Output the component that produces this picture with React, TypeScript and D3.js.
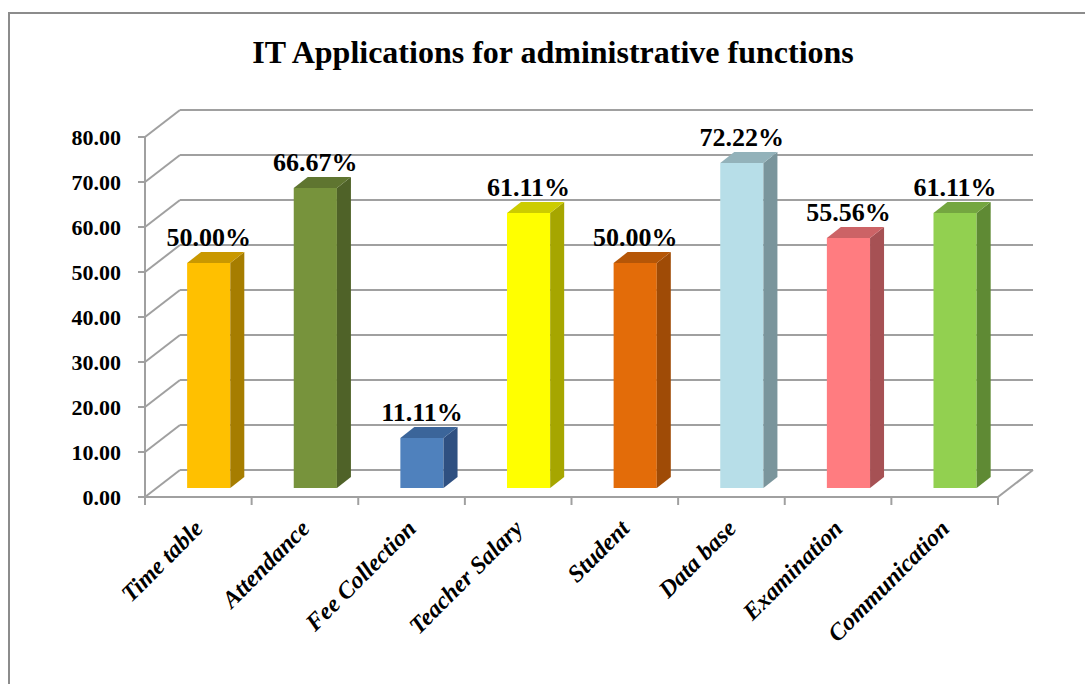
import React from "react";
import * as d3 from "d3";

const categories = ["Time table", "Attendance", "Fee Collection", "Teacher Salary", "Student", "Data base", "Examination", "Communication"];
const values = [50.0, 66.67, 11.11, 61.11, 50.0, 72.22, 55.56, 61.11];
const frontColors = ["#FFC000", "#77933C", "#4F81BD", "#FFFF00", "#E36C09", "#B7DEE8", "#FF7C80", "#92D050"];
const sideColors = ["#A67D00", "#4F6228", "#2F5081", "#A6A600", "#9F4B06", "#7A959C", "#A65154", "#5F8A34"];
const topColors = ["#C99800", "#5F7530", "#3B659A", "#CCCC00", "#B55607", "#93B2BA", "#CC6366", "#74A640"];
const yTicks = [0, 10, 20, 30, 40, 50, 60, 70, 80];
const title = "IT Applications for administrative functions";

const W = 1085;
const H = 684;

export default function App() {
  const x = d3.scaleBand<string>().domain(categories).range([145, 998]).padding(0);
  const y = d3.scaleLinear().domain([0, 80]).range([497, 137]);
  const bdx = 35, bdy = -27; // back wall offset
  const pdx = 0, pdy = -9; // bar plane offset
  const sdx = 14, sdy = -11; // bar depth
  const bw = x.bandwidth() * 0.405;
  const grid = "#A0A0A0";
  const serif = "'Liberation Serif', 'Times New Roman', serif";

  return (
    <svg width={W} height={H} style={{ position: "absolute", left: 0, top: 0, background: "#fff" }}>
      <rect x={9} y={13} width={1100} height={700} fill="#fff" stroke="#8C8C8C" strokeWidth={2} />
      <text x={553} y={63} textAnchor="middle" fontFamily={serif} fontWeight="bold" fontSize={32}>{title}</text>

      {/* back wall gridlines and side diagonals */}
      {yTicks.map((t) => (
        <g key={"g" + t}>
          <line x1={145 + bdx} x2={998 + bdx} y1={y(t) + bdy} y2={y(t) + bdy} stroke={grid} strokeWidth={2} />
          <line x1={145} y1={y(t)} x2={145 + bdx} y2={y(t) + bdy} stroke={grid} strokeWidth={2} />
        </g>
      ))}
      {/* floor */}
      <line x1={145} x2={998} y1={y(0)} y2={y(0)} stroke={grid} strokeWidth={2} />
      <line x1={998} y1={y(0)} x2={998 + bdx} y2={y(0) + bdy} stroke={grid} strokeWidth={2} />
      {/* y axis */}
      <line x1={145} x2={145} y1={y(80)} y2={y(0)} stroke={grid} strokeWidth={2} />
      {yTicks.map((t) => (
        <g key={"t" + t}>
          <line x1={138} x2={145} y1={y(t)} y2={y(t)} stroke={grid} strokeWidth={2} />
          <text x={121} y={y(t)} dy="0.35em" textAnchor="end" fontFamily={serif} fontWeight="bold" fontSize={22}>{t.toFixed(2)}</text>
        </g>
      ))}
      {/* x ticks */}
      {categories.map((c, i) => (
        <line key={"xt" + i} x1={x(c)!} x2={x(c)!} y1={y(0)} y2={y(0) + 8} stroke={grid} strokeWidth={2} />
      ))}
      <line x1={998} x2={998} y1={y(0)} y2={y(0) + 8} stroke={grid} strokeWidth={2} />

      {/* bars */}
      {categories.map((c, i) => {
        const x0 = x(c)! + x.bandwidth() * 0.395 + pdx;
        const x1 = x0 + bw;
        const yb = y(0) + pdy;
        const yt = y(values[i]) + pdy;
        return (
          <g key={"b" + i}>
            <rect x={x0} y={yt} width={bw} height={yb - yt} fill={frontColors[i]} />
            <polygon points={`${x1},${yt} ${x1 + sdx},${yt + sdy} ${x1 + sdx},${yb + sdy} ${x1},${yb}`} fill={sideColors[i]} />
            <polygon points={`${x0},${yt} ${x0 + sdx},${yt + sdy} ${x1 + sdx},${yt + sdy} ${x1},${yt}`} fill={topColors[i]} />
            <text x={x0 + bw / 2} y={yt - 17} textAnchor="middle" fontFamily={serif} fontWeight="bold" fontSize={26}>{values[i].toFixed(2) + "%"}</text>
          </g>
        );
      })}

      {/* x labels */}
      {categories.map((c, i) => {
        const cx = x(c)! + x.bandwidth() / 2 + 6;
        return (
          <text key={"xl" + i} transform={`translate(${cx},${530}) rotate(-45)`} textAnchor="end" fontFamily={serif} fontWeight="bold" fontStyle="italic" fontSize={24}>{c}</text>
        );
      })}
    </svg>
  );
}
